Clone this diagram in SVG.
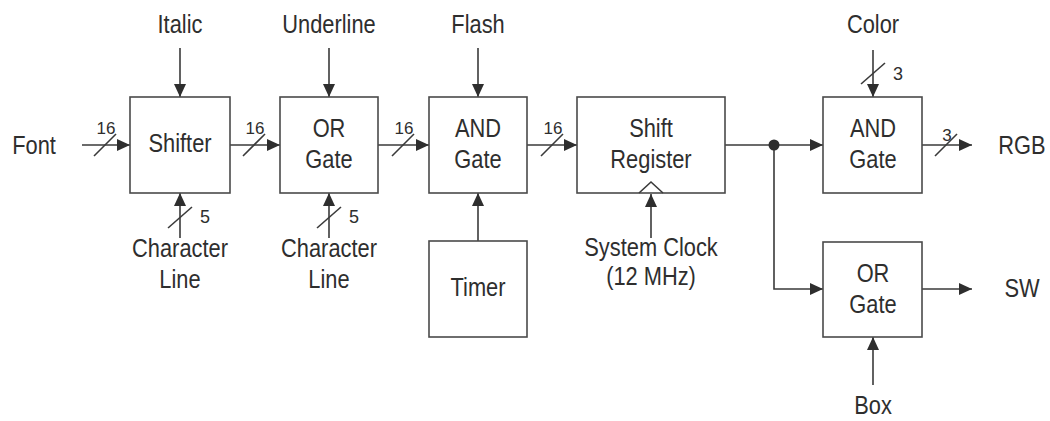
<svg xmlns="http://www.w3.org/2000/svg" width="1050" height="421" viewBox="0 0 1050 421">
<style>
.box{fill:#fff;stroke:#4a4a4a;stroke-width:1.6}
.ln{fill:none;stroke:#3a3a3a;stroke-width:1.6}
.ar{fill:none;stroke:#3a3a3a;stroke-width:1.6;marker-end:url(#ah)}
.t{font-family:"Liberation Sans",Arial,sans-serif;font-size:26px;fill:#2e2e2e;text-anchor:middle}
.n{font-family:"Liberation Sans",Arial,sans-serif;font-size:17px;fill:#2e2e2e;text-anchor:middle}
.n2{font-family:"Liberation Sans",Arial,sans-serif;font-size:18px;fill:#2e2e2e;text-anchor:middle}
</style>
<defs>
<marker id="ah" markerWidth="13" markerHeight="12" refX="13" refY="6" orient="auto" markerUnits="userSpaceOnUse">
<path d="M0,0 L13,6 L0,12 z" fill="#2e2e2e"/>
</marker>
</defs>
<rect width="1050" height="421" fill="#fff"/>

<g id="connectors">
<line class="ar" x1="82" y1="145" x2="130" y2="145"/>
<line class="ar" x1="230" y1="145" x2="280" y2="145"/>
<line class="ar" x1="378" y1="145" x2="429" y2="145"/>
<line class="ar" x1="527" y1="145" x2="577" y2="145"/>
<line class="ar" x1="725" y1="145" x2="823" y2="145"/>
<polyline class="ar" points="774,145 774,289 823,289"/>
<circle cx="774" cy="145" r="5.5" fill="#2e2e2e"/>
<line class="ar" x1="922" y1="145" x2="972" y2="145"/>
<line class="ar" x1="922" y1="289" x2="972" y2="289"/>
<line class="ar" x1="180" y1="48" x2="180" y2="97"/>
<line class="ar" x1="329" y1="48" x2="329" y2="97"/>
<line class="ar" x1="478" y1="48" x2="478" y2="97"/>
<line class="ar" x1="873" y1="50" x2="873" y2="97"/>
<line class="ar" x1="180" y1="238" x2="180" y2="193"/>
<line class="ar" x1="329" y1="238" x2="329" y2="193"/>
<line class="ar" x1="478" y1="241" x2="478" y2="193"/>
<line class="ar" x1="651" y1="238" x2="651" y2="194"/>
<line class="ar" x1="873" y1="385" x2="873" y2="337"/>
<line class="ln" x1="94" y1="156" x2="116" y2="134"/>
<line class="ln" x1="243" y1="156" x2="265" y2="134"/>
<line class="ln" x1="392" y1="156" x2="414" y2="134"/>
<line class="ln" x1="541" y1="156" x2="563" y2="134"/>
<line class="ln" x1="935" y1="156" x2="957" y2="134"/>
<line class="ln" x1="168" y1="228" x2="192" y2="207"/>
<line class="ln" x1="317" y1="228" x2="341" y2="207"/>
<line class="ln" x1="861" y1="84" x2="885" y2="63"/>
<text class="n" x="106" y="134">16</text>
<text class="n" x="255" y="134">16</text>
<text class="n" x="404" y="134">16</text>
<text class="n" x="553" y="134">16</text>
<text class="n" x="947" y="141">3</text>
<text class="n2" x="205" y="223">5</text>
<text class="n2" x="354" y="223">5</text>
<text class="n2" x="898" y="80">3</text>
</g>

<g id="shifter">
<rect class="box" x="130" y="97" width="100" height="96"/>
<text class="t" transform="translate(180,152) scale(0.84,1)">Shifter</text>
</g>
<g id="or-gate-1">
<rect class="box" x="280" y="97" width="98" height="96"/>
<text class="t" transform="translate(329,137) scale(0.84,1)">OR<tspan x="0" dy="31">Gate</tspan></text>
</g>
<g id="and-gate-1">
<rect class="box" x="429" y="97" width="98" height="96"/>
<text class="t" transform="translate(478,137) scale(0.84,1)">AND<tspan x="0" dy="31">Gate</tspan></text>
</g>
<g id="timer">
<rect class="box" x="429" y="241" width="98" height="96"/>
<text class="t" transform="translate(478,296) scale(0.84,1)">Timer</text>
</g>
<g id="shift-register">
<rect class="box" x="577" y="97" width="148" height="96"/>
<polyline class="ln" points="639,193 651,182 663,193"/>
<text class="t" transform="translate(651,137) scale(0.84,1)">Shift<tspan x="0" dy="31">Register</tspan></text>
</g>
<g id="and-gate-2">
<rect class="box" x="823" y="97" width="99" height="96"/>
<text class="t" transform="translate(873,137) scale(0.84,1)">AND<tspan x="0" dy="31">Gate</tspan></text>
</g>
<g id="or-gate-2">
<rect class="box" x="823" y="242" width="99" height="95"/>
<text class="t" transform="translate(873,282) scale(0.84,1)">OR<tspan x="0" dy="31">Gate</tspan></text>
</g>

<g id="label-font"><text class="t" transform="translate(34,154) scale(0.84,1)">Font</text></g>
<g id="label-italic"><text class="t" transform="translate(180,33) scale(0.84,1)">Italic</text></g>
<g id="label-underline"><text class="t" transform="translate(329,33) scale(0.84,1)">Underline</text></g>
<g id="label-flash"><text class="t" transform="translate(478,33) scale(0.84,1)">Flash</text></g>
<g id="label-color"><text class="t" transform="translate(873,33) scale(0.84,1)">Color</text></g>
<g id="label-char-1"><text class="t" transform="translate(180,257) scale(0.84,1)">Character<tspan x="0" dy="31">Line</tspan></text></g>
<g id="label-char-2"><text class="t" transform="translate(329,257) scale(0.84,1)">Character<tspan x="0" dy="31">Line</tspan></text></g>
<g id="label-clock"><text class="t" transform="translate(651,256) scale(0.84,1)">System Clock<tspan x="0" dy="29">(12 MHz)</tspan></text></g>
<g id="label-rgb"><text class="t" transform="translate(1022,154) scale(0.84,1)">RGB</text></g>
<g id="label-sw"><text class="t" transform="translate(1022,297) scale(0.84,1)">SW</text></g>
<g id="label-box"><text class="t" transform="translate(873,414) scale(0.84,1)">Box</text></g>
</svg>
